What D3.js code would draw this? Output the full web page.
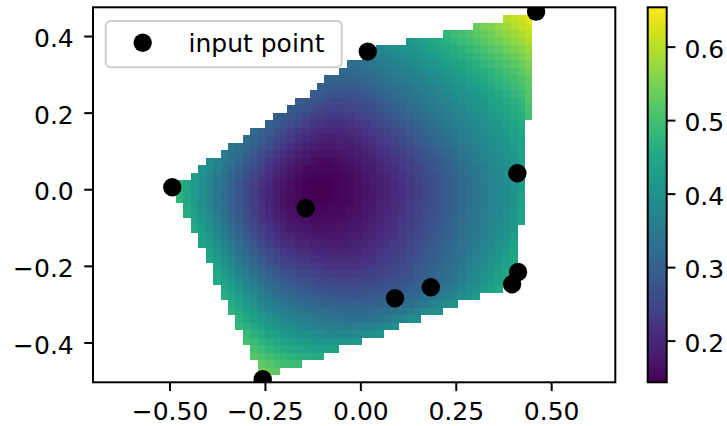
<!DOCTYPE html>
<html><head><meta charset="utf-8">
<script src="https://cdn.jsdelivr.net/npm/d3@7"></script>
<style>body{margin:0;background:#fff} text{font-family:"DejaVu Sans",sans-serif}</style>
</head><body><svg id="c" width="727" height="426"></svg>
<script>
// ---- data ----
const px = [-0.4927, -0.1431, 0.0194, 0.4604, 0.4114, 0.4133, 0.3975, 0.1845, 0.0909, -0.2558];
const py = [0.0052, -0.0488, 0.3593, 0.4637, 0.0418, -0.2159, -0.2480, -0.2559, -0.2846, -0.4960];
const pz = [0.4927, 0.1512, 0.3598, 0.6535, 0.4135, 0.4663, 0.4685, 0.3155, 0.2988, 0.5581];
const xTicks = [-0.5, -0.25, 0, 0.25, 0.5];
const yTicks = [-0.4, -0.2, 0, 0.2, 0.4];
const cTicks = [0.2, 0.3, 0.4, 0.5, 0.6];
const gridN = 50;
const legendLabel = "input point";

// ---- layout ----
const L = 93, R = 615.3, T = 7.3, B = 382.3;
const xDom = [-0.7005, 0.668], yDom = [-0.504, 0.475];
const FS = 25;

const svg = d3.select("#c");
const xs = d3.scaleLinear().domain(xDom).range([L, R]);
const ys = d3.scaleLinear().domain(yDom).range([B, T]);

// ---- Clough-Tocher interpolation of the input points (as the reference does) ----
const n = px.length;
const del = d3.Delaunay.from(px.map((x, i) => [x, py[i]]));
const tris = del.triangles, he = del.halfedges;
const nT = tris.length / 3;
const nbr = [];
for (let t = 0; t < nT; t++) {
  const a = [];
  for (let k = 0; k < 3; k++) { const h = he[3 * t + (k + 1) % 3]; a.push(h < 0 ? -1 : Math.floor(h / 3)); }
  nbr.push(a);
}
function bary(t, x, y) {
  const a = tris[3 * t], b = tris[3 * t + 1], c = tris[3 * t + 2];
  const x1 = px[a], y1 = py[a], x2 = px[b], y2 = py[b], x3 = px[c], y3 = py[c];
  const det = (y2 - y3) * (x1 - x3) + (x3 - x2) * (y1 - y3);
  const l1 = ((y2 - y3) * (x - x3) + (x3 - x2) * (y - y3)) / det;
  const l2 = ((y3 - y1) * (x - x3) + (x1 - x3) * (y - y3)) / det;
  return [l1, l2, 1 - l1 - l2];
}
const gx = new Float64Array(n), gy = new Float64Array(n);
const vn = d3.range(n).map(i => Array.from(del.neighbors(i)));
for (let it = 0; it < 400; it++) {
  let err = 0;
  for (let i = 0; i < n; i++) {
    let Q0 = 0, Q1 = 0, Q2 = 0, s0 = 0, s1 = 0;
    for (const j of vn[i]) {
      const ex = px[j] - px[i], ey = py[j] - py[i];
      const Ln = Math.hypot(ex, ey), L3 = Ln * Ln * Ln;
      const df2 = -ex * gx[j] - ey * gy[j];
      const q = 6 * (pz[i] - pz[j]) - 2 * df2;
      Q0 += 4 * ex * ex / L3; Q1 += 4 * ex * ey / L3; Q2 += 4 * ey * ey / L3;
      s0 += q * ex / L3; s1 += q * ey / L3;
    }
    const det = Q0 * Q2 - Q1 * Q1;
    const r0 = (Q2 * s0 - Q1 * s1) / det, r1 = (-Q1 * s0 + Q0 * s1) / det;
    let change = Math.max(Math.abs(gx[i] + r0), Math.abs(gy[i] + r1));
    gx[i] = -r0; gy[i] = -r1;
    change /= Math.max(1, Math.max(Math.abs(r0), Math.abs(r1)));
    err = Math.max(err, change);
  }
  if (err < 1e-6) break;
}
function ct(t, b) {
  const v = [tris[3 * t], tris[3 * t + 1], tris[3 * t + 2]];
  const e12x = px[v[1]] - px[v[0]], e12y = py[v[1]] - py[v[0]];
  const e23x = px[v[2]] - px[v[1]], e23y = py[v[2]] - py[v[1]];
  const e31x = px[v[0]] - px[v[2]], e31y = py[v[0]] - py[v[2]];
  const f1 = pz[v[0]], f2 = pz[v[1]], f3 = pz[v[2]];
  const df12 = (gx[v[0]] * e12x + gy[v[0]] * e12y);
  const df21 = -(gx[v[1]] * e12x + gy[v[1]] * e12y);
  const df23 = (gx[v[1]] * e23x + gy[v[1]] * e23y);
  const df32 = -(gx[v[2]] * e23x + gy[v[2]] * e23y);
  const df31 = (gx[v[2]] * e31x + gy[v[2]] * e31y);
  const df13 = -(gx[v[0]] * e31x + gy[v[0]] * e31y);
  const c3000 = f1, c2100 = (df12 + 3 * c3000) / 3, c2010 = (df13 + 3 * c3000) / 3;
  const c0300 = f2, c1200 = (df21 + 3 * c0300) / 3, c0210 = (df23 + 3 * c0300) / 3;
  const c0030 = f3, c1020 = (df31 + 3 * c0030) / 3, c0120 = (df32 + 3 * c0030) / 3;
  const c2001 = (c2100 + c2010 + c3000) / 3;
  const c0201 = (c1200 + c0300 + c0210) / 3;
  const c0021 = (c1020 + c0120 + c0030) / 3;
  const g = [0, 0, 0];
  for (let k = 0; k < 3; k++) {
    const it = nbr[t][k];
    if (it === -1) { g[k] = -0.5; continue; }
    const a = tris[3 * it], bb = tris[3 * it + 1], cc = tris[3 * it + 2];
    const cxn = (px[a] + px[bb] + px[cc]) / 3, cyn = (py[a] + py[bb] + py[cc]) / 3;
    const c = bary(t, cxn, cyn);
    if (k === 0) g[k] = (2 * c[2] + c[1] - 1) / (2 - 3 * c[2] - 3 * c[1]);
    else if (k === 1) g[k] = (2 * c[0] + c[2] - 1) / (2 - 3 * c[0] - 3 * c[2]);
    else g[k] = (2 * c[1] + c[0] - 1) / (2 - 3 * c[1] - 3 * c[0]);
  }
  const c0111 = (g[0] * (-c0300 + 3 * c0210 - 3 * c0120 + c0030) + (-c0300 + 2 * c0210 - c0120 + c0021 + c0201)) / 2;
  const c1011 = (g[1] * (-c0030 + 3 * c1020 - 3 * c2010 + c3000) + (-c0030 + 2 * c1020 - c2010 + c2001 + c0021)) / 2;
  const c1101 = (g[2] * (-c3000 + 3 * c2100 - 3 * c1200 + c0300) + (-c3000 + 2 * c2100 - c1200 + c2001 + c0201)) / 2;
  const c1002 = (c1101 + c1011 + c2001) / 3;
  const c0102 = (c1101 + c0111 + c0201) / 3;
  const c0012 = (c1011 + c0111 + c0021) / 3;
  const c0003 = (c1002 + c0102 + c0012) / 3;
  const m = Math.min(b[0], b[1], b[2]);
  const b1 = b[0] - m, b2 = b[1] - m, b3 = b[2] - m, b4 = 3 * m;
  return (b1 ** 3 * c3000 + 3 * b1 ** 2 * b2 * c2100 + 3 * b1 ** 2 * b3 * c2010 +
    3 * b1 ** 2 * b4 * c2001 + 3 * b1 * b2 ** 2 * c1200 +
    6 * b1 * b2 * b4 * c1101 + 3 * b1 * b3 ** 2 * c1020 + 6 * b1 * b3 * b4 * c1011 +
    3 * b1 * b4 ** 2 * c1002 + b2 ** 3 * c0300 + 3 * b2 ** 2 * b3 * c0210 +
    3 * b2 ** 2 * b4 * c0201 + 3 * b2 * b3 ** 2 * c0120 + 6 * b2 * b3 * b4 * c0111 +
    3 * b2 * b4 ** 2 * c0102 + b3 ** 3 * c0030 + 3 * b3 ** 2 * b4 * c0021 +
    3 * b3 * b4 ** 2 * c0012 + b4 ** 3 * c0003);
}
function interp(x, y) {
  for (let t = 0; t < nT; t++) {
    const b = bary(t, x, y);
    if (b[0] >= -1e-12 && b[1] >= -1e-12 && b[2] >= -1e-12) return ct(t, b);
  }
  return NaN;
}
const [x0, x1] = d3.extent(px), [y0, y1] = d3.extent(py);
const GX = d3.range(gridN).map(i => x0 + i * (x1 - x0) / (gridN - 1));
const GY = d3.range(gridN).map(i => y0 + i * (y1 - y0) / (gridN - 1));
const dx = GX[1] - GX[0], dy = GY[1] - GY[0];
const cells = [];
GY.forEach(yv => GX.forEach(xv => { const z = interp(xv, yv); if (!isNaN(z)) cells.push({ x: xv, y: yv, z }); }));
const [zmin, zmax] = d3.extent(cells, d => d.z);
const color = d3.scaleSequential(d3.interpolateViridis).domain([zmin, zmax]);

// ---- plot ----
svg.append("defs").append("clipPath").attr("id", "clip")
  .append("rect").attr("x", L).attr("y", T).attr("width", R - L).attr("height", B - T);
const gPlot = svg.append("g").attr("clip-path", "url(#clip)");
const rx = v => Math.round(xs(v)), ry = v => Math.round(ys(v));
gPlot.append("g").attr("shape-rendering", "crispEdges").selectAll("rect").data(cells).join("rect")
  .attr("x", d => rx(d.x - dx / 2)).attr("y", d => ry(d.y + dy / 2))
  .attr("width", d => rx(d.x + dx / 2) - rx(d.x - dx / 2))
  .attr("height", d => ry(d.y - dy / 2) - ry(d.y + dy / 2))
  .attr("fill", d => color(d.z));
gPlot.append("g").selectAll("circle").data(px).join("circle")
  .attr("cx", (d, i) => xs(px[i])).attr("cy", (d, i) => ys(py[i])).attr("r", 9.2).attr("fill", "#000");

// axes
const xAx = svg.append("g").attr("transform", `translate(0,${B})`)
  .call(d3.axisBottom(xs).tickValues(xTicks).tickFormat(d3.format(".2f")).tickSize(8.75).tickPadding(11).tickSizeOuter(0));
const yAx = svg.append("g").attr("transform", `translate(${L},0)`)
  .call(d3.axisLeft(ys).tickValues(yTicks).tickFormat(d3.format(".1f")).tickSize(8.75).tickPadding(10.5).tickSizeOuter(0));
[xAx, yAx].forEach(a => {
  a.select(".domain").remove();
  a.selectAll("line").attr("stroke", "#000").attr("stroke-width", 2);
  a.selectAll("text").attr("font-size", FS).attr("fill", "#000").attr("font-family", "DejaVu Sans");
});
yAx.selectAll("text").attr("dy", "0.43em");
svg.append("rect").attr("x", L).attr("y", T).attr("width", R - L).attr("height", B - T)
  .attr("fill", "none").attr("stroke", "#000").attr("stroke-width", 2);

// legend
const lg = svg.append("g");
lg.append("rect").attr("x", 105.7).attr("y", 21).attr("width", 236).attr("height", 46.3).attr("rx", 5)
  .attr("fill", "#fff").attr("fill-opacity", 0.8).attr("stroke", "#cccccc").attr("stroke-width", 2);
lg.append("circle").attr("cx", 142.7).attr("cy", 42.7).attr("r", 9.2).attr("fill", "#000");
lg.append("text").attr("x", 188.5).attr("y", 51.7).attr("font-size", FS).text(legendLabel);

// colorbar
const CL = 647.7, CR = 666.7;
const cs = d3.scaleLinear().domain([zmin, zmax]).range([B, T]);
const grad = svg.select("defs").append("linearGradient").attr("id", "cb")
  .attr("x1", 0).attr("y1", 1).attr("x2", 0).attr("y2", 0);
d3.range(0, 1.0001, 0.02).forEach(t => grad.append("stop").attr("offset", t).attr("stop-color", d3.interpolateViridis(t)));
svg.append("rect").attr("x", CL).attr("y", T).attr("width", CR - CL).attr("height", B - T).attr("fill", "url(#cb)");
const cAx = svg.append("g").attr("transform", `translate(${CR},0)`)
  .call(d3.axisRight(cs).tickValues(cTicks).tickFormat(d3.format(".1f")).tickSize(8.75).tickPadding(9).tickSizeOuter(0));
cAx.select(".domain").remove();
cAx.selectAll("line").attr("stroke", "#000").attr("stroke-width", 2);
cAx.selectAll("text").attr("font-size", FS).attr("fill", "#000").attr("dy", "0.43em").attr("font-family", "DejaVu Sans");
svg.append("rect").attr("x", CL).attr("y", T).attr("width", CR - CL).attr("height", B - T)
  .attr("fill", "none").attr("stroke", "#000").attr("stroke-width", 2);
</script></body></html>
